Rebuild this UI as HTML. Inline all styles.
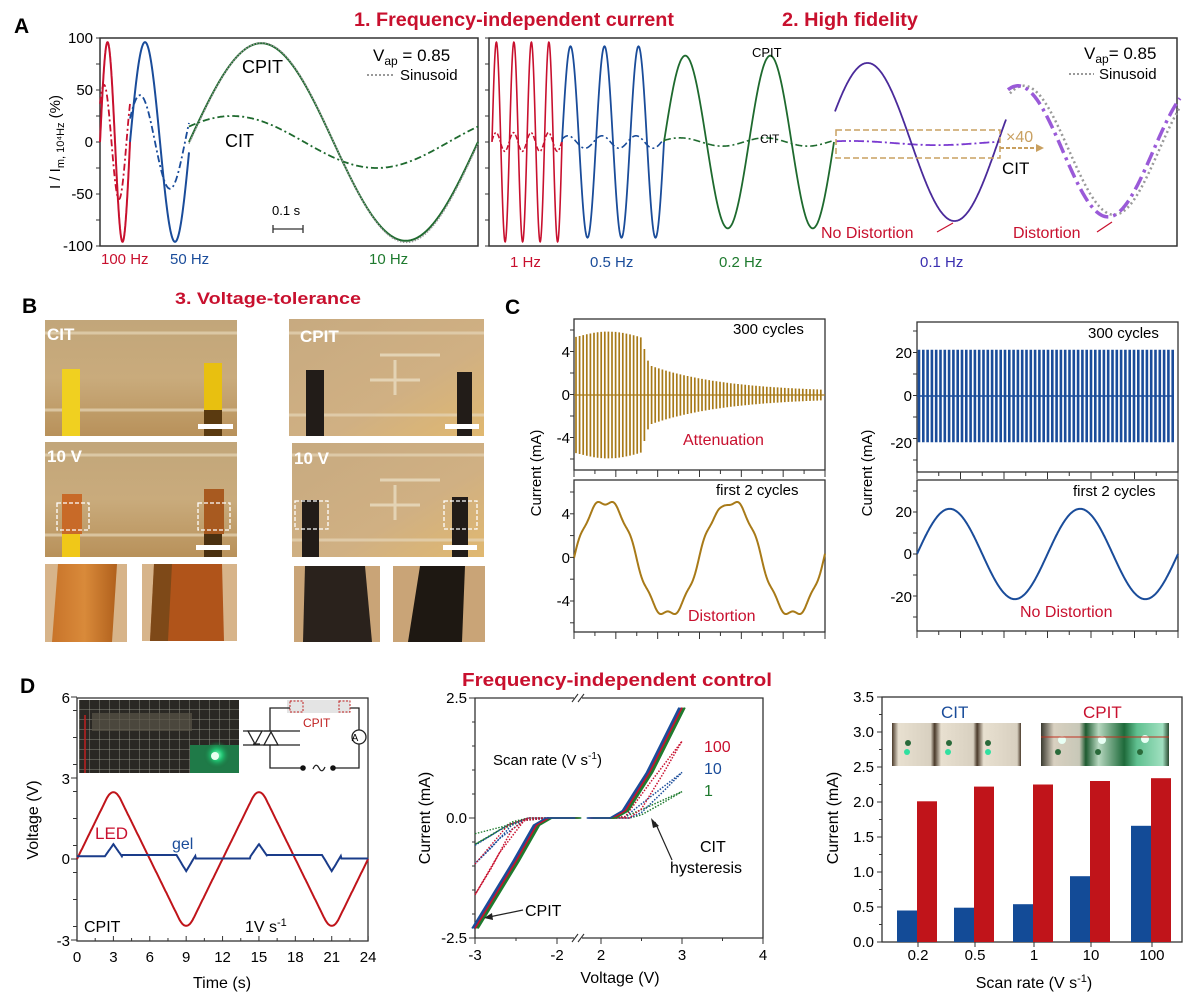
<!DOCTYPE html>
<html><head><meta charset="utf-8">
<style>
html,body{margin:0;padding:0;background:#fff;}
svg{display:block;font-family:"Liberation Sans",Arial,sans-serif;}
</style></head><body>
<svg id="s" width="1204" height="997" viewBox="0 0 1204 997" xmlns="http://www.w3.org/2000/svg">
<defs>
<linearGradient id="tan" x1="0" y1="0" x2="0" y2="1">
<stop offset="0" stop-color="#c2a67a"/><stop offset="0.5" stop-color="#c9ab7c"/><stop offset="1" stop-color="#b8915a"/></linearGradient>
<linearGradient id="tan2" x1="0" y1="0" x2="1" y2="1">
<stop offset="0" stop-color="#c7aa80"/><stop offset="0.6" stop-color="#d0b083"/><stop offset="1" stop-color="#e0b870"/></linearGradient>
<linearGradient id="orange" x1="0" y1="0" x2="1" y2="0">
<stop offset="0" stop-color="#c8742a"/><stop offset="0.5" stop-color="#d98a3a"/><stop offset="1" stop-color="#b0601c"/></linearGradient>
<linearGradient id="bb" x1="0" y1="0" x2="1" y2="0">
<stop offset="0" stop-color="#4a3a2a"/><stop offset="0.05" stop-color="#e8e0d0"/><stop offset="0.3" stop-color="#d8d0c0"/><stop offset="0.33" stop-color="#4a3a2a"/><stop offset="0.38" stop-color="#e8e0d0"/><stop offset="0.63" stop-color="#d8d0c0"/><stop offset="0.66" stop-color="#4a3a2a"/><stop offset="0.71" stop-color="#e8e0d0"/><stop offset="0.97" stop-color="#d8d0c0"/><stop offset="1" stop-color="#4a3a2a"/></linearGradient>
<linearGradient id="bb2" x1="0" y1="0" x2="1" y2="0">
<stop offset="0" stop-color="#3a3a30"/><stop offset="0.1" stop-color="#d8d0c0"/><stop offset="0.3" stop-color="#c8c8b8"/><stop offset="0.35" stop-color="#1e5a30"/><stop offset="0.45" stop-color="#b8d8c0"/><stop offset="0.65" stop-color="#1e6a3a"/><stop offset="0.75" stop-color="#60c090"/><stop offset="0.95" stop-color="#a0e0c0"/><stop offset="1" stop-color="#2a4a30"/></linearGradient>
<pattern id="grid" width="10" height="10" patternUnits="userSpaceOnUse"><path d="M10 0V10M0 10H10" stroke="#8a8a80" stroke-width="1" fill="none"/></pattern>
<radialGradient id="glow" cx="0.5" cy="0.5" r="0.5"><stop offset="0" stop-color="#80ffc0"/><stop offset="0.4" stop-color="#20c070"/><stop offset="1" stop-color="#1a6a3a" stop-opacity="0"/></radialGradient>
</defs>

<!-- ============ PANEL A ============ -->
<text x="14" y="33" font-size="21" font-weight="bold">A</text>
<text x="354" y="26" font-size="19" font-weight="bold" fill="#c8102e" textLength="320" lengthAdjust="spacingAndGlyphs">1. Frequency-independent current</text>
<text x="782" y="26" font-size="19" font-weight="bold" fill="#c8102e" textLength="136" lengthAdjust="spacingAndGlyphs">2. High fidelity</text>

<rect x="100" y="38" width="378" height="208" fill="none" stroke="#333" stroke-width="1.5"/>
<rect x="489" y="38" width="688" height="208" fill="none" stroke="#333" stroke-width="1.5"/>
<g font-size="15" text-anchor="end">
<text x="93" y="43">100</text><text x="93" y="95">50</text><text x="93" y="147">0</text><text x="93" y="199">-50</text><text x="93" y="251">-100</text>
</g>
<text transform="translate(60,142) rotate(-90)" font-size="15" text-anchor="middle">I / I<tspan font-size="11" dy="4">m, 10⁴Hz</tspan><tspan dy="-4"> (%)</tspan></text>
<g id="ticksA" stroke="#333" stroke-width="1"></g>
<g id="curvesA" fill="none"></g>

<text x="373" y="61" font-size="17">V<tspan font-size="12" dy="4">ap</tspan><tspan dy="-4"> = 0.85</tspan></text>
<line x1="367" y1="75" x2="393" y2="75" stroke="#999" stroke-width="2" stroke-dasharray="2 2"/>
<text x="400" y="80" font-size="15">Sinusoid</text>
<text x="242" y="73" font-size="18">CPIT</text>
<text x="225" y="147" font-size="18">CIT</text>
<text x="272" y="215" font-size="13">0.1 s</text>
<path d="M273 229H303M273 225V233M303 225V233" stroke="#333" stroke-width="1.3"/>
<text x="101" y="264" font-size="15" fill="#c8102e">100 Hz</text>
<text x="170" y="264" font-size="15" fill="#1a4c9a">50 Hz</text>
<text x="369" y="264" font-size="15" fill="#1e7a2e">10 Hz</text>

<text x="1084" y="59" font-size="17">V<tspan font-size="12" dy="4">ap</tspan><tspan dy="-4">= 0.85</tspan></text>
<line x1="1069" y1="74" x2="1094" y2="74" stroke="#999" stroke-width="2" stroke-dasharray="2 2"/>
<text x="1099" y="79" font-size="15">Sinusoid</text>
<text x="752" y="57" font-size="13">CPIT</text>
<text x="760" y="143" font-size="12">CIT</text>
<rect x="836" y="130" width="164" height="28" fill="none" stroke="#c9a060" stroke-width="1.5" stroke-dasharray="6 3"/>
<text x="1006" y="142" font-size="16" fill="#c9a060">×40</text>
<line x1="1000" y1="148" x2="1036" y2="148" stroke="#c9a060" stroke-width="2" stroke-dasharray="4 2"/>
<path d="M1036 144L1044 148L1036 152Z" fill="#c9a060"/>
<text x="1002" y="174" font-size="17">CIT</text>
<text x="821" y="238" font-size="16" fill="#c8102e">No Distortion</text>
<path d="M937 232L953 223" stroke="#c8102e" stroke-width="1.2"/>
<text x="1013" y="238" font-size="16" fill="#c8102e">Distortion</text>
<path d="M1097 232L1112 222" stroke="#c8102e" stroke-width="1.2"/>
<text x="510" y="267" font-size="15" fill="#c8102e">1 Hz</text>
<text x="590" y="267" font-size="15" fill="#1a4c9a">0.5 Hz</text>
<text x="719" y="267" font-size="15" fill="#1e7a2e">0.2 Hz</text>
<text x="920" y="267" font-size="15" fill="#3a2fb0">0.1 Hz</text>

<!-- ============ PANEL B ============ -->
<text x="22" y="313" font-size="21" font-weight="bold">B</text>
<text x="175" y="304" font-size="17" font-weight="bold" fill="#c8102e" textLength="186" lengthAdjust="spacingAndGlyphs">3. Voltage-tolerance</text>
<rect x="45" y="320" width="192" height="116" fill="url(#tan)"/>
<path d="M45 333H237M45 410H237" stroke="#e6d6b8" stroke-width="3" opacity="0.7"/>
<rect x="62" y="369" width="18" height="67" fill="#f0d020"/>
<rect x="204" y="363" width="18" height="47" fill="#e8c010"/><rect x="204" y="410" width="18" height="26" fill="#5a3a10"/>
<rect x="198" y="424" width="35" height="5" fill="#fff"/>
<text x="47" y="340" font-size="17" font-weight="bold" fill="#fff">CIT</text>
<rect x="45" y="442" width="192" height="115" fill="url(#tan)"/>
<path d="M45 455H237M45 535H237" stroke="#e6d6b8" stroke-width="3" opacity="0.7"/>
<rect x="62" y="494" width="20" height="40" fill="#c86a28"/><rect x="62" y="534" width="18" height="23" fill="#f0c818"/>
<rect x="204" y="489" width="20" height="45" fill="#a85a20"/><rect x="204" y="534" width="18" height="23" fill="#4a3010"/>
<rect x="57" y="503" width="32" height="27" fill="none" stroke="#fff" stroke-width="1.3" stroke-dasharray="4 2"/>
<rect x="198" y="503" width="32" height="27" fill="none" stroke="#fff" stroke-width="1.3" stroke-dasharray="4 2"/>
<rect x="196" y="545" width="34" height="5" fill="#fff"/>
<text x="47" y="462" font-size="17" font-weight="bold" fill="#fff">10 V</text>
<rect x="45" y="564" width="82" height="78" fill="#d7b48a"/>
<path d="M58 564L117 564L112 642L52 642Z" fill="url(#orange)"/>
<rect x="142" y="564" width="95" height="77" fill="#d7b48a"/>
<path d="M154 564L222 564L224 641L150 641Z" fill="#b0541a"/>
<path d="M154 564L172 564L168 641L150 641Z" fill="#6a4418" opacity="0.7"/>
<rect x="289" y="319" width="195" height="117" fill="url(#tan2)"/>
<path d="M289 333H484M289 415H484" stroke="#e6d6b8" stroke-width="3" opacity="0.7"/>
<rect x="306" y="370" width="18" height="66" fill="#221c18"/>
<rect x="457" y="372" width="15" height="64" fill="#221c18"/>
<rect x="445" y="424" width="34" height="5" fill="#fff"/>
<text x="300" y="342" font-size="17" font-weight="bold" fill="#fff">CPIT</text>
<path d="M370 380H420M395 360V395M380 355H440" stroke="#e8dcc0" stroke-width="3" fill="none" opacity="0.8"/>
<rect x="292" y="443" width="192" height="114" fill="url(#tan2)"/>
<path d="M292 455H484M292 540H484" stroke="#e6d6b8" stroke-width="3" opacity="0.7"/>
<path d="M370 505H420M395 485V520M380 480H440" stroke="#e8dcc0" stroke-width="3" fill="none" opacity="0.8"/>
<rect x="302" y="500" width="17" height="57" fill="#221c18"/>
<rect x="452" y="497" width="16" height="60" fill="#221c18"/>
<rect x="295" y="501" width="33" height="28" fill="none" stroke="#fff" stroke-width="1.3" stroke-dasharray="4 2"/>
<rect x="444" y="501" width="33" height="28" fill="none" stroke="#fff" stroke-width="1.3" stroke-dasharray="4 2"/>
<rect x="443" y="545" width="34" height="5" fill="#fff"/>
<text x="294" y="464" font-size="17" font-weight="bold" fill="#fff">10 V</text>
<rect x="294" y="566" width="86" height="76" fill="#c9a477"/>
<path d="M305 566L365 566L372 642L303 642Z" fill="#2a221c"/>
<rect x="393" y="566" width="92" height="76" fill="#c9a477"/>
<path d="M420 566L465 566L462 642L408 642Z" fill="#1e1812"/>

<!-- ============ PANEL C ============ -->
<text x="505" y="314" font-size="21" font-weight="bold">C</text>
<text transform="translate(541,473) rotate(-90)" font-size="15" text-anchor="middle">Current (mA)</text>
<text transform="translate(872,473) rotate(-90)" font-size="15" text-anchor="middle">Current (mA)</text>
<rect x="574" y="319" width="251" height="151" fill="none" stroke="#333" stroke-width="1.3"/>
<rect x="574" y="480" width="251" height="152" fill="none" stroke="#333" stroke-width="1.3"/>
<rect x="917" y="322" width="261" height="150" fill="none" stroke="#333" stroke-width="1.3"/>
<rect x="917" y="480" width="261" height="151" fill="none" stroke="#333" stroke-width="1.3"/>
<g font-size="15" text-anchor="end">
<text x="570" y="357">4</text><text x="570" y="400">0</text><text x="570" y="443">-4</text>
<text x="570" y="519">4</text><text x="570" y="563">0</text><text x="570" y="606">-4</text>
<text x="912" y="358">20</text><text x="912" y="401">0</text><text x="912" y="448">-20</text>
<text x="912" y="517">20</text><text x="912" y="559">0</text><text x="912" y="602">-20</text>
</g>
<g id="curvesC" fill="none"></g>
<g font-size="15">
<text x="733" y="334">300 cycles</text>
<text x="683" y="445" fill="#c8102e" font-size="16">Attenuation</text>
<text x="716" y="495">first 2 cycles</text>
<text x="688" y="621" fill="#c8102e" font-size="16">Distortion</text>
<text x="1088" y="338">300 cycles</text>
<text x="1073" y="496">first 2 cycles</text>
<text x="1020" y="617" fill="#c8102e" font-size="16">No Distortion</text>
</g>

<!-- ============ PANEL D ============ -->
<text x="20" y="693" font-size="21" font-weight="bold">D</text>
<text x="462" y="686" font-size="18" font-weight="bold" fill="#c8102e" textLength="310" lengthAdjust="spacingAndGlyphs">Frequency-independent control</text>

<rect x="77" y="698" width="291" height="243" fill="none" stroke="#333" stroke-width="1.3"/>
<rect x="79" y="700" width="160" height="73" fill="#2a2824"/>
<rect x="79" y="700" width="160" height="73" fill="url(#grid)"/>
<rect x="92" y="713" width="100" height="18" fill="#5a5448" opacity="0.7"/>
<rect x="190" y="745" width="49" height="28" fill="#1f7a48"/>
<circle cx="217" cy="755" r="14" fill="url(#glow)"/>
<circle cx="215" cy="756" r="4" fill="#e8fff0"/>
<line x1="85" y1="715" x2="85" y2="773" stroke="#c02020" stroke-width="1.5"/>
<g stroke="#222" stroke-width="1.3" fill="none">
<rect x="287" y="700" width="63" height="13" fill="#e4e4e4" stroke="none"/>
<path d="M270 731V708H290M350 708H359V730M359 744V768H333M303 768H270V745"/>
<circle cx="359" cy="737" r="7" fill="#fff"/>
<path d="M243 731H300M243 745H300"/>
<path d="M248 731L262 731L255 744Z"/><path d="M264 745L278 745L271 732Z"/>
<path d="M253 744H260M264 731H280"/>
<path d="M313 769Q316 762 319 768Q322 774 325 767"/>
</g>
<rect x="290" y="701" width="13" height="11" fill="none" stroke="#c02020" stroke-dasharray="2 1.5"/>
<rect x="339" y="701" width="11" height="11" fill="none" stroke="#c02020" stroke-dasharray="2 1.5"/>
<circle cx="303" cy="768" r="2.8" fill="#111"/><circle cx="333" cy="768" r="2.8" fill="#111"/>
<text x="355" y="741" font-size="10" text-anchor="middle">A</text>
<text x="303" y="727" font-size="12" fill="#c02020">CPIT</text>
<g font-size="15" text-anchor="end">
<text x="70" y="703">6</text><text x="70" y="784">3</text><text x="70" y="864">0</text><text x="70" y="946">-3</text>
</g>
<g font-size="15" text-anchor="middle" id="dlx"></g>
<text x="222" y="988" font-size="16" text-anchor="middle">Time (s)</text>
<text transform="translate(38,820) rotate(-90)" font-size="16" text-anchor="middle">Voltage (V)</text>
<g id="curvesD" fill="none"></g>
<text x="95" y="839" font-size="17" fill="#c8102e">LED</text>
<text x="172" y="849" font-size="16" fill="#1a4c9a">gel</text>
<text x="84" y="932" font-size="16">CPIT</text>
<text x="245" y="932" font-size="16">1V s<tspan font-size="11" dy="-6">-1</tspan></text>

<path d="M475 698H763V938H475Z" fill="none" stroke="#333" stroke-width="1.3"/>
<rect x="574" y="693" width="8" height="10" fill="#fff"/><rect x="574" y="933" width="8" height="10" fill="#fff"/>
<path d="M572 702L578 694M578 702L584 694M572 942L578 934M578 942L584 934" stroke="#333" stroke-width="1.1"/>
<g font-size="15" text-anchor="end">
<text x="467" y="703">2.5</text><text x="467" y="823">0.0</text><text x="467" y="943">-2.5</text>
</g>
<g font-size="15" text-anchor="middle">
<text x="475" y="960">-3</text><text x="557" y="960">-2</text><text x="601" y="960">2</text><text x="682" y="960">3</text><text x="763" y="960">4</text>
</g>
<text x="620" y="983" font-size="16" text-anchor="middle">Voltage (V)</text>
<text transform="translate(430,818) rotate(-90)" font-size="16" text-anchor="middle">Current (mA)</text>
<g id="curvesM" fill="none"></g>
<text x="493" y="765" font-size="15">Scan rate (V s<tspan font-size="10" dy="-6">-1</tspan><tspan dy="6">)</tspan></text>
<text x="704" y="752" font-size="16" fill="#c8102e">100</text>
<text x="704" y="774" font-size="16" fill="#1a4c9a">10</text>
<text x="704" y="796" font-size="16" fill="#1e7a2e">1</text>
<text x="700" y="852" font-size="16">CIT</text>
<text x="670" y="873" font-size="16">hysteresis</text>
<path d="M672 860L655 822" stroke="#222" stroke-width="1.2"/><path d="M651 818L659 826L653 828Z" fill="#222"/>
<text x="525" y="916" font-size="16">CPIT</text>
<path d="M523 910L489 917" stroke="#222" stroke-width="1.2"/><path d="M484 918L492 913L493 920Z" fill="#222"/>

<rect x="882" y="697" width="300" height="245" fill="none" stroke="#333" stroke-width="1.3"/>
<g font-size="15" text-anchor="end" id="drl"></g>
<g id="barsD"></g>
<text transform="translate(838,818) rotate(-90)" font-size="16" text-anchor="middle">Current (mA)</text>
<g font-size="15" text-anchor="middle">
<text x="918" y="960">0.2</text><text x="975" y="960">0.5</text><text x="1034" y="960">1</text><text x="1091" y="960">10</text><text x="1152" y="960">100</text>
</g>
<text x="1034" y="988" font-size="16" text-anchor="middle">Scan rate (V s<tspan font-size="11" dy="-6">-1</tspan><tspan dy="6">)</tspan></text>
<text x="941" y="718" font-size="17" fill="#1a4c9a">CIT</text>
<text x="1083" y="718" font-size="17" fill="#c8102e">CPIT</text>
<rect x="892" y="723" width="129" height="43" fill="url(#bb)"/>
<rect x="1041" y="723" width="128" height="43" fill="url(#bb2)"/>
<g fill="#30e0a0"><circle cx="907" cy="752" r="3"/><circle cx="948" cy="752" r="3"/><circle cx="988" cy="752" r="3"/></g>
<g fill="#2a6a3a"><circle cx="908" cy="743" r="3"/><circle cx="949" cy="743" r="3"/><circle cx="988" cy="743" r="3"/><circle cx="1058" cy="752" r="3"/><circle cx="1098" cy="752" r="3"/><circle cx="1140" cy="752" r="3"/></g>
<g fill="#e8fff4"><circle cx="1062" cy="740" r="4"/><circle cx="1102" cy="740" r="4"/><circle cx="1145" cy="739" r="4"/></g>
<path d="M1041 737H1169" stroke="#c03020" stroke-width="1"/>
</svg>
<script>
const NS='http://www.w3.org/2000/svg';
function el(p,t,a){const e=document.createElementNS(NS,t);for(const k in a)e.setAttribute(k,a[k]);document.getElementById(p).appendChild(e);return e;}
function P(x0,x1,f,X,st){st=st||0.5;let s='';for(let x=x0;x<=x1+1e-9;x+=st){const xx=X?X(x):x;s+=(s?'L':'M')+xx.toFixed(1)+','+f(x).toFixed(1);}return s;}
const T=2*Math.PI;
const YA=v=>142-v*1.04;
function curve(g,pd,c,w,da){const a={d:pd,stroke:c,'stroke-width':w};if(da)a['stroke-dasharray']=da;el(g,'path',a);}
const DD='7 3 2 3', DOT='1.5 1.5';
const red='#c8102e',blue='#1a4c9a',green='#1e6a2e',purp='#4a2a9a',grey='#999';
curve('curvesA',P(100,130,x=>YA(55*Math.cos(T*(x-104)/30))),red,1.8,DD);
curve('curvesA',P(130,189,x=>YA(45*Math.cos(T*(x-140)/60))),blue,1.8,DD);
curve('curvesA',P(189,478,x=>YA(25*Math.cos(T*(x-232)/289))),green,1.8,DD);
curve('curvesA',P(100,130,x=>YA(96*Math.sin(T*(x-100)/30)),null,0.25),red,2);
curve('curvesA',P(130,189,x=>YA(96*Math.sin(T*(x-130)/60))),blue,2);
curve('curvesA',P(189,478,x=>YA(95*Math.sin(T*(x-189)/289))),green,2);
curve('curvesA',P(189,478,x=>YA(96*Math.sin(T*(x-189.5)/289))+0.6),grey,1.5,DOT);
curve('curvesA',P(492,562,x=>YA(9*Math.cos(T*(x-496)/17.5)),null,0.25),red,1.5,'5 2 2 2');
curve('curvesA',P(562,664,x=>YA(6*Math.cos(T*(x-568)/34))),blue,1.6,DD);
curve('curvesA',P(664,834,x=>YA(4*Math.cos(T*(x-680)/85))),green,1.6,DD);
curve('curvesA',P(836,1000,x=>YA(2*Math.cos(T*(x-850)/174)-1)),'#7a3ad0',1.8,'10 3 2 3');
curve('curvesA',P(492,562,x=>YA(96*Math.sin(T*(x-492)/17.5)),null,0.2),red,1.6);
curve('curvesA',P(562,664,x=>YA(92*Math.sin(T*(x-562)/34)),null,0.3),blue,1.8);
curve('curvesA',P(664,834,x=>YA(83*Math.sin(T*(x-664)/85))),green,1.8);
curve('curvesA',P(835,1006,x=>YA(76*Math.sin(T*(x-824)/174))),purp,1.8);
curve('curvesA',P(1010,1180,x=>YA(62*Math.cos(T*(x-1024)/180)-8)),grey,2.5,'2 3');
curve('curvesA',P(1008,1180,x=>YA(63*Math.cos(T*(x-1018)/180)-9)),'#9a5ad8',3.5,'14 5 3 5');
for(let v=-100;v<=100;v+=25){const y=YA(v);el('ticksA','line',{x1:96,x2:100,y1:y,y2:y});el('ticksA','line',{x1:485,x2:489,y1:y,y2:y});}
// Panel C
const YC1=v=>395-v*10.75, YC2=v=>558-v*10.9, YC3=v=>396-v*2.15, YC4=v=>554-v*2.1;
let pc='';
for(let x=576;x<=824;x+=3.6){let a;if(x<640)a=5.4+0.5*Math.sin((x-576)/64*Math.PI);else if(x<650)a=5.6-(x-640)*0.3;else a=2.5*Math.exp(-(x-650)/75)+0.25;pc+='M'+x.toFixed(1)+','+YC1(a).toFixed(1)+'V'+YC1(-a).toFixed(1);}
curve('curvesC',pc,'#a87a18',1.7);
curve('curvesC','M574,395H825','#a87a18',1.2);
curve('curvesC',P(574,825,x=>{const th=T*(x-574)/125;const notch=(x>700&&x<740)?-0.4*Math.exp(-Math.pow((x-722)/5,2)):0;return YC2(5.4*Math.sin(th)+0.25*Math.sin(3*th)+0.25*Math.sin(7*th)+notch);}),'#a87a18',2);
pc='';
for(let x=919;x<=1174;x+=4.3){pc+='M'+x.toFixed(1)+','+YC3(21.5)+'V'+YC3(-21.5);}
curve('curvesC',pc,'#1a4c9a',2.6);
curve('curvesC','M917,396H1174','#1a4c9a',1.5);
curve('curvesC',P(917,1178,x=>YC4(21.5*Math.sin(T*(x-917)/130.5))),'#1a4c9a',2);
function tk(x,y1,y2,step){for(let y=y1;y<=y2+0.1;y+=step)el('curvesC','line',{x1:x-4,x2:x,y1:y,y2:y,stroke:'#333'});}
tk(574,330,460,21.5);tk(574,492,624,21.8);tk(917,331,461,21.5);tk(917,491,619,21);
for(let i=0;i<=12;i++){const x=574+i*251/12;el('curvesC','line',{x1:x,x2:x,y1:470,y2:i%2?474:477,stroke:'#333'});el('curvesC','line',{x1:x,x2:x,y1:632,y2:i%2?636:639,stroke:'#333'});}
for(let i=0;i<=12;i++){const x=917+i*261/12;el('curvesC','line',{x1:x,x2:x,y1:472,y2:i%2?476:479,stroke:'#333'});el('curvesC','line',{x1:x,x2:x,y1:631,y2:i%2?635:638,stroke:'#333'});}
// Panel D left
const XD=t=>77+t*12.13, YD=v=>859-v*27;
for(let t=0;t<=24;t+=3){const e=document.createElementNS(NS,'text');e.setAttribute('x',XD(t));e.setAttribute('y',962);e.textContent=t;document.getElementById('dlx').appendChild(e);el('curvesD','line',{x1:XD(t),x2:XD(t),y1:941,y2:936,stroke:'#333'});}
for(let t=1.5;t<24;t+=3)el('curvesD','line',{x1:XD(t),x2:XD(t),y1:941,y2:938,stroke:'#333'});
function led(t){const p=((t%12)+12)%12;let s,dd;
 if(p<6){s=1;dd=Math.abs(p-3);}else{s=-1;dd=Math.abs(p-9);}
 let v;if(dd>0.6)v=2.75-dd*0.9167;else v=2.75-0.6*0.9167+0.9167*(0.6*0.6-dd*dd)/(2*0.6)-0.0; 
 v=Math.min(v,2.5);return s*v;}
curve('curvesD',P(0,24,t=>YD(led(t)),XD,0.05),'#c0141a',2);
function gel(t){const bump=(c,h,w)=>Math.max(0,1-Math.abs(t-c)/w)*h;
 if(t<2.3)return 0.1;if(t<3.7)return 0.1+bump(3,0.45,0.7);if(t<8)return 0.15;if(t<9.8)return 0.15-Math.max(0,1-Math.abs(t-9)/0.8)*0.6;
 if(t<14.3)return 0.02;if(t<15.7)return 0.1+bump(15,0.45,0.7);if(t<20)return 0.15;if(t<21.8)return 0.15-Math.max(0,1-Math.abs(t-21)/0.8)*0.6;return 0.02;}
curve('curvesD',P(0,24,t=>YD(gel(t)),XD,0.05),'#1a3c8a',2);
for(let v=-2.5;v<=5.5;v+=1)el('curvesD','line',{x1:77,x2:73,y1:YD(v),y2:YD(v),stroke:'#333'});
for(let v=-3;v<=6;v+=3)el('curvesD','line',{x1:77,x2:71,y1:YD(v),y2:YD(v),stroke:'#333'});
// D middle
const XM=V=>V<0?475+(V+3)*82:601+(V-2)*81, YM=i=>818-i*48;
function pl(pts,o){o=o||0;return pts.map((p,i)=>(i?'L':'M')+(XM(p[0])+o).toFixed(1)+','+YM(p[1]).toFixed(1)).join('');}
[['#1e7a2e',0.55],['#1a4c9a',0.95],['#c8102e',1.6]].forEach(([c,e])=>{
 curve('curvesM',pl([[2.1,0],[2.3,0.03],[2.6,0.45*e],[3,e],[2.75,0.55*e],[2.5,0.12*e],[2.35,0],[2.1,0]]),c,1.5,'1.5 1.5');
 curve('curvesM',pl([[-2.1,0],[-2.4,-0.05],[-2.7,-0.45*e],[-3,-e],[-2.8,-0.65*e],[-2.55,-0.15*e],[-2.35,0],[-2.1,0]]),c,1.5,'1.5 1.5');
 curve('curvesM',pl([[-3,-e*0.6],[-2.6,-0.15],[-2.35,0]]),c,1.3,'1.5 1.5');
});
[['#1a4c9a',-1.5],['#1e7a2e',1.5],['#c8102e',0],['#1e7a2e',3],['#1a4c9a',-3]].forEach(([c,o])=>{
 curve('curvesM',pl([[-3,-2.3],[-2.5,-0.9],[-2.25,-0.15],[-2.1,0],[-1.74,0]],o),c,1.6);
 curve('curvesM',pl([[1.86,0],[2.15,0],[2.3,0.15],[2.6,0.95],[3,2.3]],o),c,1.6);
});
for(let i=-2.5;i<=2.51;i+=0.5)el('curvesM','line',{x1:475,x2:(Math.abs(i)%2.5<0.01)?469:472,y1:YM(i),y2:YM(i),stroke:'#333'});
[-3,-2.5,-2,2,2.5,3,3.5,4].forEach(V=>el('curvesM','line',{x1:XM(V),x2:XM(V),y1:938,y2:Number.isInteger(V)?944:941,stroke:'#333'}));
// D right bars
const YB=v=>942-v*70;
const cx=[918,975,1034,1091,1152],bl=[0.45,0.49,0.54,0.94,1.66],rd=[2.01,2.22,2.25,2.30,2.34];
cx.forEach((c,i)=>{el('barsD','rect',{x:c-21,y:YB(bl[i]),width:20,height:942-YB(bl[i]),fill:'#134b97'});el('barsD','rect',{x:c-1,y:YB(rd[i]),width:20,height:942-YB(rd[i]),fill:'#c0141a'});});
for(let k=0;k<=7;k++){const v=k*0.5;const e=document.createElementNS(NS,'text');e.setAttribute('x',874);e.setAttribute('y',YB(v)+5);e.textContent=v.toFixed(1);document.getElementById('drl').appendChild(e);el('barsD','line',{x1:882,x2:877,y1:YB(v),y2:YB(v),stroke:'#333'});if(k<7)el('barsD','line',{x1:882,x2:879,y1:YB(v+0.25),y2:YB(v+0.25),stroke:'#333'});}
cx.forEach(c=>el('barsD','line',{x1:c,x2:c,y1:942,y2:947,stroke:'#333'}));
</script>
</body></html>
